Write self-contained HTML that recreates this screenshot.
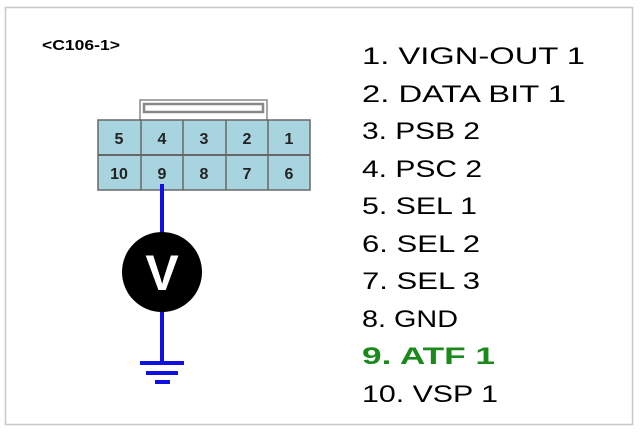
<!DOCTYPE html>
<html><head><style>html,body{margin:0;padding:0;background:#fff}</style></head><body>
<svg width="640" height="432" xmlns="http://www.w3.org/2000/svg" font-family="Liberation Sans, sans-serif">
<rect x="5.5" y="7.5" width="627" height="417" fill="#fff" stroke="#c8c8c8" stroke-width="1.5"/>
<text x="42" y="50" font-size="15" font-weight="bold" textLength="78" lengthAdjust="spacingAndGlyphs">&lt;C106-1&gt;</text>
<rect x="140" y="100" width="127" height="21" fill="#fff" stroke="#888" stroke-width="1.5"/>
<rect x="144" y="104" width="119" height="8" fill="#fff" stroke="#888" stroke-width="2.5"/>
<rect x="98" y="120" width="212" height="70" fill="#a8d4e0" stroke="#666" stroke-width="1.5"/>
<line x1="98" y1="155" x2="310" y2="155" stroke="#666" stroke-width="2"/>
<g stroke="#666" stroke-width="1.5">
<line x1="141" y1="120" x2="141" y2="190"/><line x1="183" y1="120" x2="183" y2="190"/>
<line x1="226" y1="120" x2="226" y2="190"/><line x1="268" y1="120" x2="268" y2="190"/></g>
<g font-size="16" font-weight="bold" fill="#222" text-anchor="middle">
<text x="119" y="144">5</text><text x="162" y="144">4</text><text x="204" y="144">3</text><text x="247" y="144">2</text><text x="289" y="144">1</text>
<text x="119" y="179">10</text><text x="162" y="179">9</text><text x="204" y="179">8</text><text x="247" y="179">7</text><text x="289" y="179">6</text></g>
<g stroke="#1010e0" stroke-width="4">
<line x1="162" y1="184" x2="162" y2="235"/><line x1="162" y1="310" x2="162" y2="363"/>
<line x1="140" y1="363" x2="184" y2="363"/><line x1="146" y1="373" x2="178" y2="373"/><line x1="155" y1="382" x2="170" y2="382"/></g>
<circle cx="162" cy="272" r="40" fill="#000"/>
<text x="162" y="290" font-size="50" font-weight="bold" fill="#fff" text-anchor="middle">V</text>
<g font-size="24" fill="#000">
<text x="362" y="64" textLength="223" lengthAdjust="spacingAndGlyphs">1. VIGN-OUT 1</text>
<text x="362" y="102" textLength="204" lengthAdjust="spacingAndGlyphs">2. DATA BIT 1</text>
<text x="362" y="139" textLength="118" lengthAdjust="spacingAndGlyphs">3. PSB 2</text>
<text x="362" y="177" textLength="120" lengthAdjust="spacingAndGlyphs">4. PSC 2</text>
<text x="362" y="214" textLength="115" lengthAdjust="spacingAndGlyphs">5. SEL 1</text>
<text x="362" y="252" textLength="118" lengthAdjust="spacingAndGlyphs">6. SEL 2</text>
<text x="362" y="289" textLength="118" lengthAdjust="spacingAndGlyphs">7. SEL 3</text>
<text x="362" y="327" textLength="96" lengthAdjust="spacingAndGlyphs">8. GND</text>
<text x="362" y="364" textLength="133" lengthAdjust="spacingAndGlyphs" fill="#1a8a1a" font-weight="bold">9. ATF 1</text>
<text x="362" y="402" textLength="136" lengthAdjust="spacingAndGlyphs">10. VSP 1</text>
</g>
</svg>
</body></html>
